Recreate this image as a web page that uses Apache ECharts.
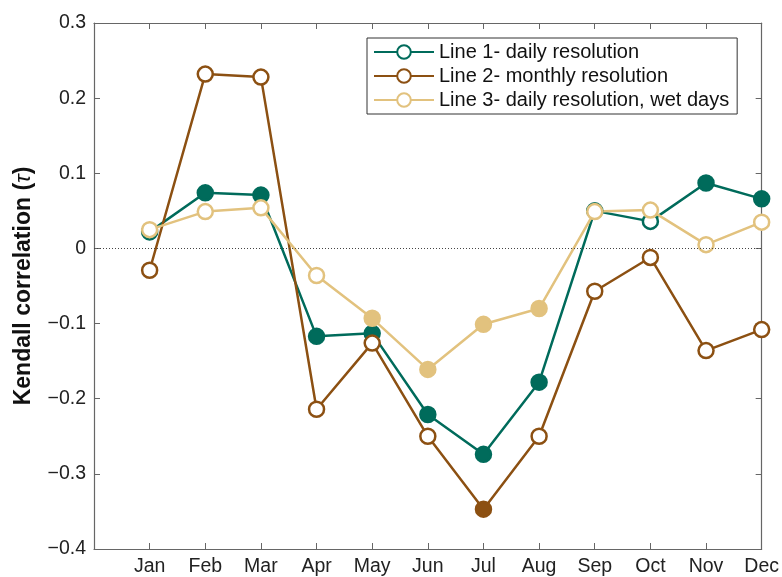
<!DOCTYPE html>
<html>
<head>
<meta charset="utf-8">
<script src="https://cdn.jsdelivr.net/npm/echarts@6/dist/echarts.min.js"></script>
<style>
  html, body { margin: 0; padding: 0; background: #fff; }
  #chart { width: 782px; height: 577px; }
</style>
</head>
<body>
<div id="chart"></div>
<script>
const months = ['Jan', 'Feb', 'Mar', 'Apr', 'May', 'Jun', 'Jul', 'Aug', 'Sep', 'Oct', 'Nov', 'Dec']

// Kendall tau per month
const line1 = [0.022, 0.074, 0.071, -0.117, -0.113, -0.221, -0.274, -0.178, 0.050, 0.036, 0.087, 0.066]
const line2 = [-0.029, 0.232, 0.228, -0.214, -0.126, -0.250, -0.347, -0.250, -0.057, -0.012, -0.136, -0.108]
const line3 = [0.025, 0.049, 0.054, -0.036, -0.093, -0.161, -0.101, -0.080, 0.049, 0.051, 0.005, 0.035]

// filled marker = 1, open marker = 0
const filled1 = [0, 1, 1, 1, 1, 1, 1, 1, 1, 0, 1, 1]
const filled2 = [0, 0, 0, 0, 0, 0, 1, 0, 0, 0, 0, 0]
const filled3 = [0, 0, 0, 0, 1, 1, 1, 1, 0, 0, 0, 0]

const yTicks = [-0.4, -0.3, -0.2, -0.1, 0, 0.1, 0.2, 0.3]

const seriesNames = ['Line 1- daily resolution', 'Line 2- monthly resolution', 'Line 3- daily resolution, wet days']
const colors = ['#006b5b', '#8c5012', '#e2c27e']

const font = "'Liberation Sans', Arial, Helvetica, sans-serif"
const axisColor = '#666'

const chart = echarts.init(document.getElementById('chart'))

const makeSeries = (name, values, flags, color, withZero) => {
  const s = {
    name: name,
    type: 'line',
    symbol: 'circle',
    symbolSize: 15,
    lineStyle: { color: color, width: 2.5 },
    itemStyle: { color: '#fff', borderColor: color, borderWidth: 2.5 },
    data: values.map((v, i) => ({
      value: [i + 1, v],
      itemStyle: flags[i] ? { color: color, borderColor: color } : undefined
    })),
    emphasis: { disabled: true }
  }
  if (withZero) {
    s.markLine = {
      silent: true,
      symbol: 'none',
      label: { show: false },
      lineStyle: { color: '#444', type: [1, 2], width: 1 },
      data: [{ yAxis: 0 }]
    }
  }
  return s
}

const fmtY = (v) => {
  const t = yTicks.find(x => Math.abs(x - v) < 1e-9)
  if (t === undefined) return ''
  if (t === 0) return '0'
  return (t < 0 ? '\u2212' : '') + Math.abs(t).toFixed(1)
}

chart.setOption({
  animation: false,
  textStyle: { fontFamily: font },
  grid: { left: 94, right: 20, top: 23, bottom: 28 },
  legend: {
    left: 367,
    top: 38,
    orient: 'vertical',
    itemWidth: 60,
    itemHeight: 17,
    itemGap: 4,
    padding: [4, 8, 4, 6],
    borderColor: '#333',
    borderWidth: 1,
    backgroundColor: '#fff',
    textStyle: { fontSize: 20, color: '#111', fontFamily: font },
    data: seriesNames
  },
  xAxis: [
    {
      type: 'value',
      min: 0,
      max: 12,
      interval: 1,
      axisLine: { show: true, onZero: false, lineStyle: { color: axisColor, width: 1.2 } },
      axisTick: { show: true, inside: true, length: 6, lineStyle: { color: axisColor } },
      axisLabel: {
        fontSize: 19.5,
        color: '#222',
        margin: 8,
        showMaxLabel: true,
        formatter: (v) => months[v - 1] || ''
      },
      splitLine: { show: false }
    },
    {
      type: 'value',
      position: 'top',
      min: 0,
      max: 12,
      interval: 1,
      axisLine: { show: true, onZero: false, lineStyle: { color: axisColor, width: 1.2 } },
      axisTick: { show: true, inside: true, length: 6, lineStyle: { color: axisColor } },
      axisLabel: { show: false },
      splitLine: { show: false }
    }
  ],
  yAxis: [
    {
      type: 'value',
      min: -0.4,
      max: 0.3,
      interval: 0.1,
      name: 'Kendall correlation ({t|\u03c4})',
      nameLocation: 'middle',
      nameGap: 59,
      nameTextStyle: {
        fontSize: 23,
        color: '#111',
        fontWeight: 'bold',
        rich: { t: { fontSize: 23, fontStyle: 'italic', fontWeight: 'normal', color: '#111' } }
      },
      axisLine: { show: true, onZero: false, lineStyle: { color: axisColor, width: 1.2 } },
      axisTick: { show: true, inside: true, length: 6, lineStyle: { color: axisColor } },
      axisLabel: { fontSize: 19.5, color: '#222', margin: 8, formatter: fmtY },
      splitLine: { show: false }
    },
    {
      type: 'value',
      position: 'right',
      min: -0.4,
      max: 0.3,
      interval: 0.1,
      axisLine: { show: true, onZero: false, lineStyle: { color: axisColor, width: 1.2 } },
      axisTick: { show: true, inside: true, length: 6, lineStyle: { color: axisColor } },
      axisLabel: { show: false },
      splitLine: { show: false }
    }
  ],
  series: [
    makeSeries(seriesNames[0], line1, filled1, colors[0], true),
    makeSeries(seriesNames[1], line2, filled2, colors[1], false),
    makeSeries(seriesNames[2], line3, filled3, colors[2], false)
  ]
})

window.addEventListener('resize', () => chart.resize())
</script>
</body>
</html>
